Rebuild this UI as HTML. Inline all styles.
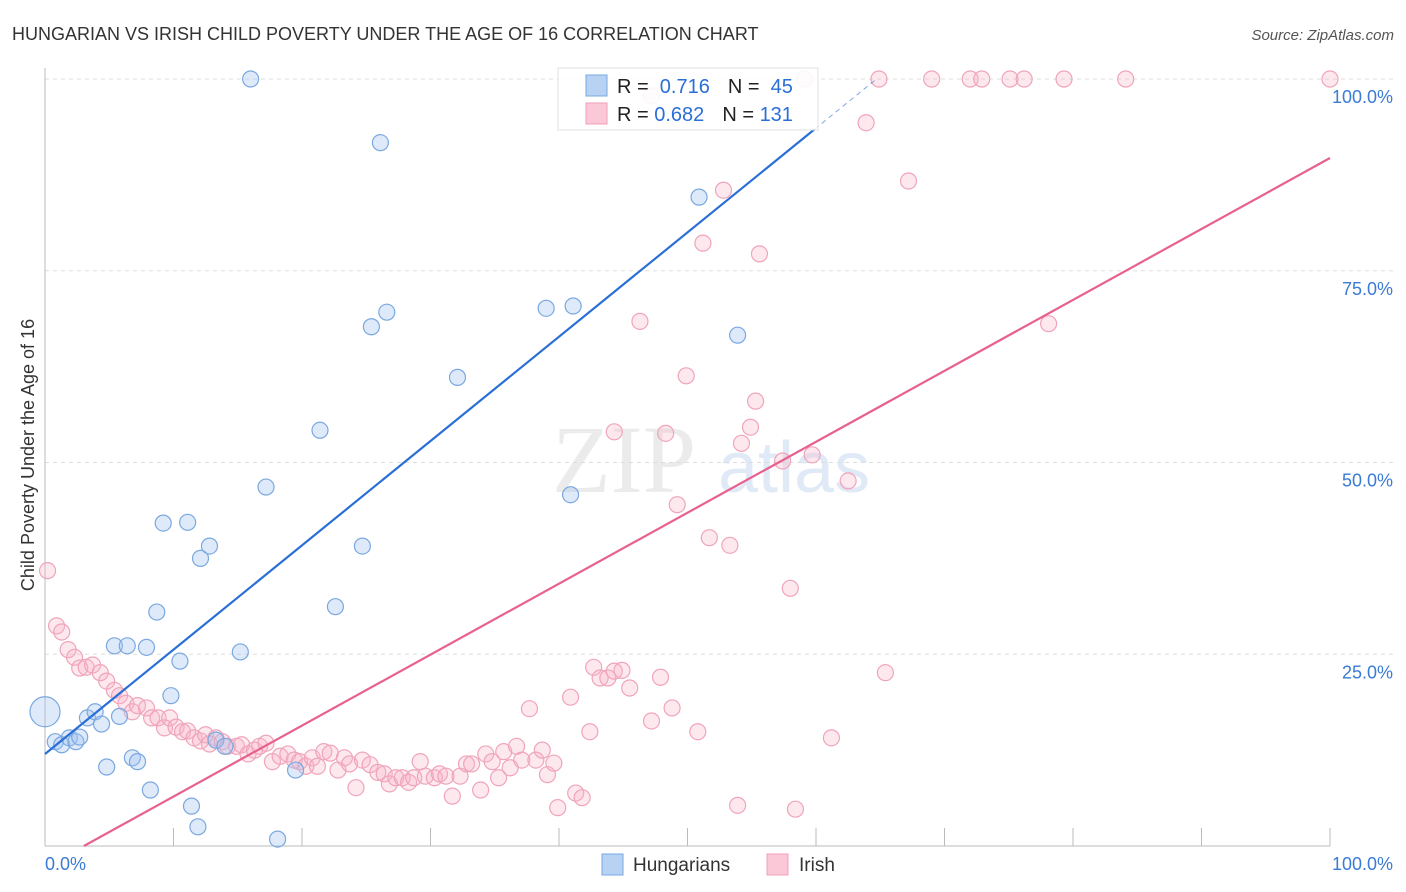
<!DOCTYPE html>
<html><head><meta charset="utf-8"><style>
body{margin:0;background:#fff;font-family:"Liberation Sans",sans-serif}
svg{display:block}
</style></head><body>
<svg id="chart" width="1406" height="892">
<text x="12" y="40" font-size="18" fill="#333">HUNGARIAN VS IRISH CHILD POVERTY UNDER THE AGE OF 16 CORRELATION CHART</text>
<text x="1394" y="40" font-size="15" fill="#555" text-anchor="end" font-style="italic">Source: ZipAtlas.com</text>
<text x="0" y="0" font-size="18" fill="#333" text-anchor="middle" transform="translate(34,455) rotate(-90)">Child Poverty Under the Age of 16</text>
<g opacity="0.35">
<text x="552" y="492" font-size="96" font-family="Liberation Serif,serif" fill="#c8c8c8">ZIP</text>
<text x="718" y="492" font-size="72" fill="#a8c4e8">atlas</text>
</g>
<g id="grid"></g><g id="axes"></g><g id="pts"></g><g id="lines"></g>
<g>
<rect x="558" y="68" width="260" height="62" fill="#fff" stroke="#ddd" opacity="0.9"/>
<rect x="586" y="75" width="21" height="21" fill="#b8d2f4" stroke="#7aa8e0"/>
<rect x="586" y="103" width="21" height="21" fill="#fac8d6" stroke="#f0a0b8"/>
<text x="617" y="93" font-size="20" fill="#222">R = <tspan fill="#2a6fd6">&#160;0.716</tspan><tspan dx="18">N = </tspan><tspan fill="#2a6fd6">&#160;45</tspan></text>
<text x="617" y="121" font-size="20" fill="#222">R = <tspan fill="#2a6fd6">0.682</tspan><tspan dx="18">N = </tspan><tspan fill="#2a6fd6">131</tspan></text>
</g>
<g>
<rect x="602" y="854" width="21" height="21" fill="#b8d2f4" stroke="#7aa8e0"/>
<text x="633" y="871" font-size="19" fill="#333">Hungarians</text>
<rect x="767" y="854" width="21" height="21" fill="#fac8d6" stroke="#f0a0b8"/>
<text x="799" y="871" font-size="19" fill="#333">Irish</text>
</g>
</svg>
<script>
const hunX=[0,0.8,1.3,1.9,2.4,2.7,3.3,3.9,4.4,4.8,5.4,5.8,6.4,6.8,7.2,7.9,8.2,8.7,9.2,9.8,10.5,11.1,11.4,11.9,12.1,12.8,13.3,14.0,15.2,16.0,17.2,18.1,19.5,21.4,22.6,24.7,25.4,26.1,26.6,32.1,39.0,40.9,41.1,50.9,53.9];
const hunY=[17.5,13.6,13.2,14.1,13.6,14.2,16.7,17.5,15.9,10.3,26.1,16.9,26.1,11.5,11.0,25.9,7.3,30.5,42.1,19.6,24.1,42.2,5.2,2.5,37.5,39.1,13.8,13.0,25.3,100,46.8,0.9,9.9,54.2,31.2,39.1,67.7,91.7,69.6,61.1,70.1,45.8,70.4,84.6,66.6];
const irX=[0.2,0.9,1.3,1.8,2.3,2.7,3.2,3.7,4.3,4.8,5.4,5.8,6.3,6.8,7.2,7.9,8.3,8.8,9.3,9.7,10.2,10.7,11.1,11.6,12.1,12.5,12.8,13.3,13.8,14.2,14.9,15.3,15.8,16.3,16.7,17.2,17.7,18.3,18.9,19.4,19.8,20.3,20.8,21.2,21.7,22.2,22.8,23.3,23.7,24.2,24.7,25.3,25.9,26.4,26.8,27.3,27.8,28.3,28.7,29.2,29.6,30.3,30.7,31.2,31.7,32.3,32.8,33.2,33.9,34.3,34.8,35.3,35.7,36.2,36.7,37.1,37.7,38.2,38.7,39.1,39.6,39.9,40.9,41.3,41.8,42.4,42.7,43.2,43.8,44.3,44.3,44.9,45.5,46.3,47.2,47.9,48.3,48.8,49.2,49.9,50.8,51.2,51.7,52.8,53.3,53.9,54.2,54.9,55.3,55.6,57.4,58.0,58.4,59.1,59.7,61.2,62.5,63.9,64.9,65.4,67.2,69.0,72.0,72.9,75.1,76.2,78.1,79.3,84.1,100,47.2];
const irY=[35.9,28.7,27.9,25.6,24.6,23.2,23.3,23.6,22.6,21.5,20.3,19.6,18.6,17.5,18.3,18.0,16.7,16.7,15.4,16.7,15.5,14.9,15.0,14.1,13.7,14.5,13.3,14.1,13.6,13.0,13.0,13.2,12.0,12.5,13.0,13.4,11.0,11.7,12.0,11.2,11.0,10.4,11.5,10.4,12.3,12.1,9.9,11.5,10.7,7.6,11.2,10.6,9.6,9.4,8.1,8.9,8.9,8.3,8.9,11.0,9.1,8.9,9.4,9.1,6.5,9.1,10.7,10.7,7.3,12.0,11.0,8.9,12.3,10.2,13.0,11.2,17.9,11.2,12.5,9.3,10.8,5.0,19.4,6.9,6.3,14.9,23.3,21.9,21.9,22.8,54.0,22.9,20.6,68.4,16.3,22.0,53.8,18.0,44.5,61.3,14.9,78.6,40.2,85.5,39.2,5.3,52.5,54.6,58.0,77.2,50.2,33.6,4.8,100,51.0,14.1,47.6,94.3,100,22.6,86.7,100,100,100,100,100,68.1,100,100,100,97.8];
const yTicks=[25,50,75,100];
const hunLine=[12.0,1.36], irLine=[-2.8,0.925];
const X=v=>45+v*12.85, Y=v=>846-v*7.67;
const NS='http://www.w3.org/2000/svg';
function mk(p,t,a){const e=document.createElementNS(NS,t);for(const k in a)e.setAttribute(k,a[k]);p.appendChild(e);return e;}
const grid=document.getElementById('grid'),axes=document.getElementById('axes'),pts=document.getElementById('pts'),lines=document.getElementById('lines');
yTicks.forEach(t=>{
 const l=mk(grid,'line',{x1:45,x2:1395,y1:Y(t),y2:Y(t),stroke:'#ddd','stroke-dasharray':'4,4'});
 
 
 const tx=mk(axes,'text',{x:1393,y:Y(t)+24,'font-size':18,fill:'#3a7bd5','text-anchor':'end'});
 tx.textContent=t.toFixed(1)+'%';
 
 
});
mk(axes,'line',{x1:45,x2:45,y1:68,y2:846,stroke:'#bbb'});
mk(axes,'line',{x1:45,x2:1330,y1:846,y2:846,stroke:'#bbb'});
for(let i=0;i<=10;i++){const t=mk(axes,'line',{x1:X(i*10),x2:X(i*10),y1:828,y2:846,stroke:'#bbb'});
 
 }
const x0=mk(axes,'text',{x:45,y:870,'font-size':18,fill:'#3a7bd5'});x0.textContent='0.0%';


const x1=mk(axes,'text',{x:1393,y:870,'font-size':18,fill:'#3a7bd5','text-anchor':'end'});x1.textContent='100.0%';


irX.forEach((v,i)=>{const c=mk(pts,'circle',{cx:X(v),cy:Y(irY[i]),r:8,fill:'rgba(248,180,200,0.3)',stroke:'#f0a4bb','stroke-width':1.2});
 
 });
hunX.forEach((v,i)=>{const c=mk(pts,'circle',{cx:X(v),cy:Y(hunY[i]),r:i===0?15:8,fill:'rgba(160,196,240,0.35)',stroke:'#7aa8e0','stroke-width':1.2});
 
 });
const hx1=59.9,hxe=(100-hunLine[0])/hunLine[1];
const hl=mk(lines,'line',{x1:X(0),y1:Y(hunLine[0]),x2:X(hx1),y2:Y(hunLine[0]+hunLine[1]*hx1),stroke:'#2a6fd6','stroke-width':2.2});


mk(lines,'line',{x1:X(hx1),y1:Y(hunLine[0]+hunLine[1]*hx1),x2:X(hxe),y2:Y(100),stroke:'#2a6fd6','stroke-width':1,'stroke-dasharray':'5,4',opacity:0.6});
const ix0=-irLine[0]/irLine[1];
const il=mk(lines,'line',{x1:X(ix0),y1:Y(0),x2:X(100),y2:Y(irLine[0]+irLine[1]*100),stroke:'#e8608f','stroke-width':2.2});


</script>
</body></html>
